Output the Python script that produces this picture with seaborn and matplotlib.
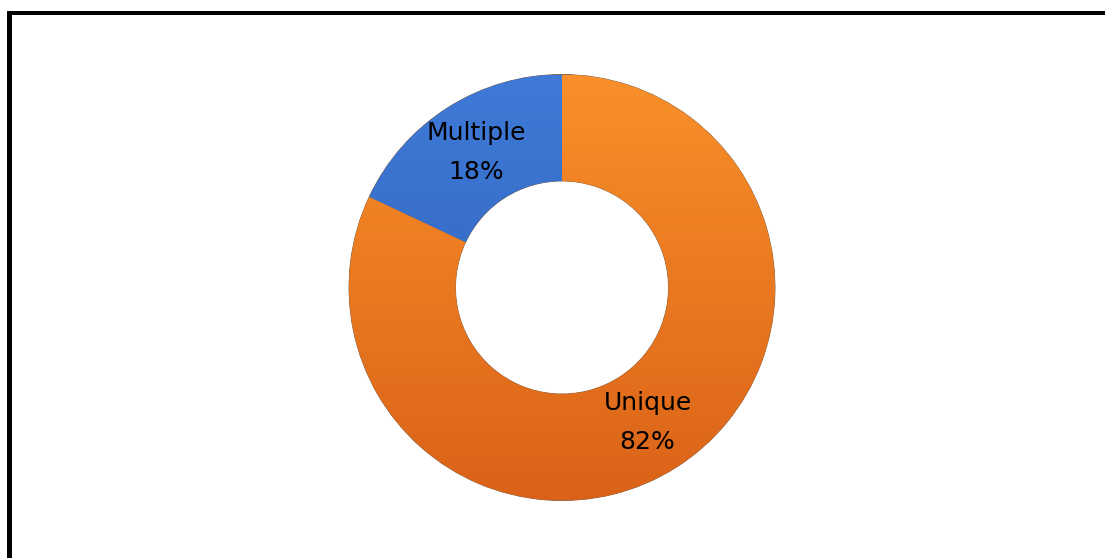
import numpy as np
import matplotlib
matplotlib.use("Agg")
import matplotlib.pyplot as plt
from matplotlib.patches import Rectangle
import seaborn as sns

labels = ["Unique", "Multiple"]
shares = [82, 18]
base_colors = ["#F5821F", "#3A70CF"]
top_colors = ["#F9902A", "#3F7AD8"]
bottom_colors = ["#DA6218", "#2C5DB5"]

sns.set_theme(style="white")
plt.rcParams["font.family"] = ["DejaVu Sans"]

W, H = 1105, 558
fig = plt.figure(figsize=(W / 100, H / 100), dpi=100)
fig.patch.set_facecolor("white")

cx, cy, r = 562, H - 287.5, 213
ax = fig.add_axes([(cx - r) / W, (cy - r) / H, 2 * r / W, 2 * r / H])

wedges, _ = ax.pie(
    shares,
    colors=base_colors,
    startangle=90,
    counterclock=False,
    radius=1.0,
    wedgeprops=dict(width=0.5, edgecolor="#7a5a40", linewidth=0.6),
)

# vertical shading inside each ring segment
grad = np.linspace(0, 1, 256).reshape(-1, 1)
for w, top, bot in zip(wedges, top_colors, bottom_colors):
    cmap = sns.blend_palette([bot, top], as_cmap=True)
    im = ax.imshow(grad, cmap=cmap, extent=(-1, 1, -1, 1), origin="lower",
                   aspect="auto", zorder=w.get_zorder() + 0.1)
    im.set_clip_path(w)

ax.set_xlim(-1, 1)
ax.set_ylim(-1, 1)
ax.set_aspect("equal")
ax.axis("off")

# labels at the middle of each ring segment
total = sum(shares)
start = 90.0
for lab, val in zip(labels, shares):
    span = 360.0 * val / total
    mid = np.deg2rad(start - span / 2)
    x, y = 0.75 * np.cos(mid), 0.75 * np.sin(mid)
    ax.text(x, y, f"{lab}\n{val}%", ha="center", va="center",
            fontsize=18, color="black", linespacing=1.8, zorder=10)
    start -= span

# frame bars along the top and left edges (pixel units)
def bar(x0, y0, w, h):
    fig.add_artist(Rectangle((x0 / W, 1 - (y0 + h) / H), w / W, h / H,
                             transform=fig.transFigure, facecolor="black",
                             edgecolor="none"))

bar(7, 11, W - 7, 4)
bar(7, 11, 5, H - 11)

fig.savefig("out.png", dpi=100, facecolor="white")
